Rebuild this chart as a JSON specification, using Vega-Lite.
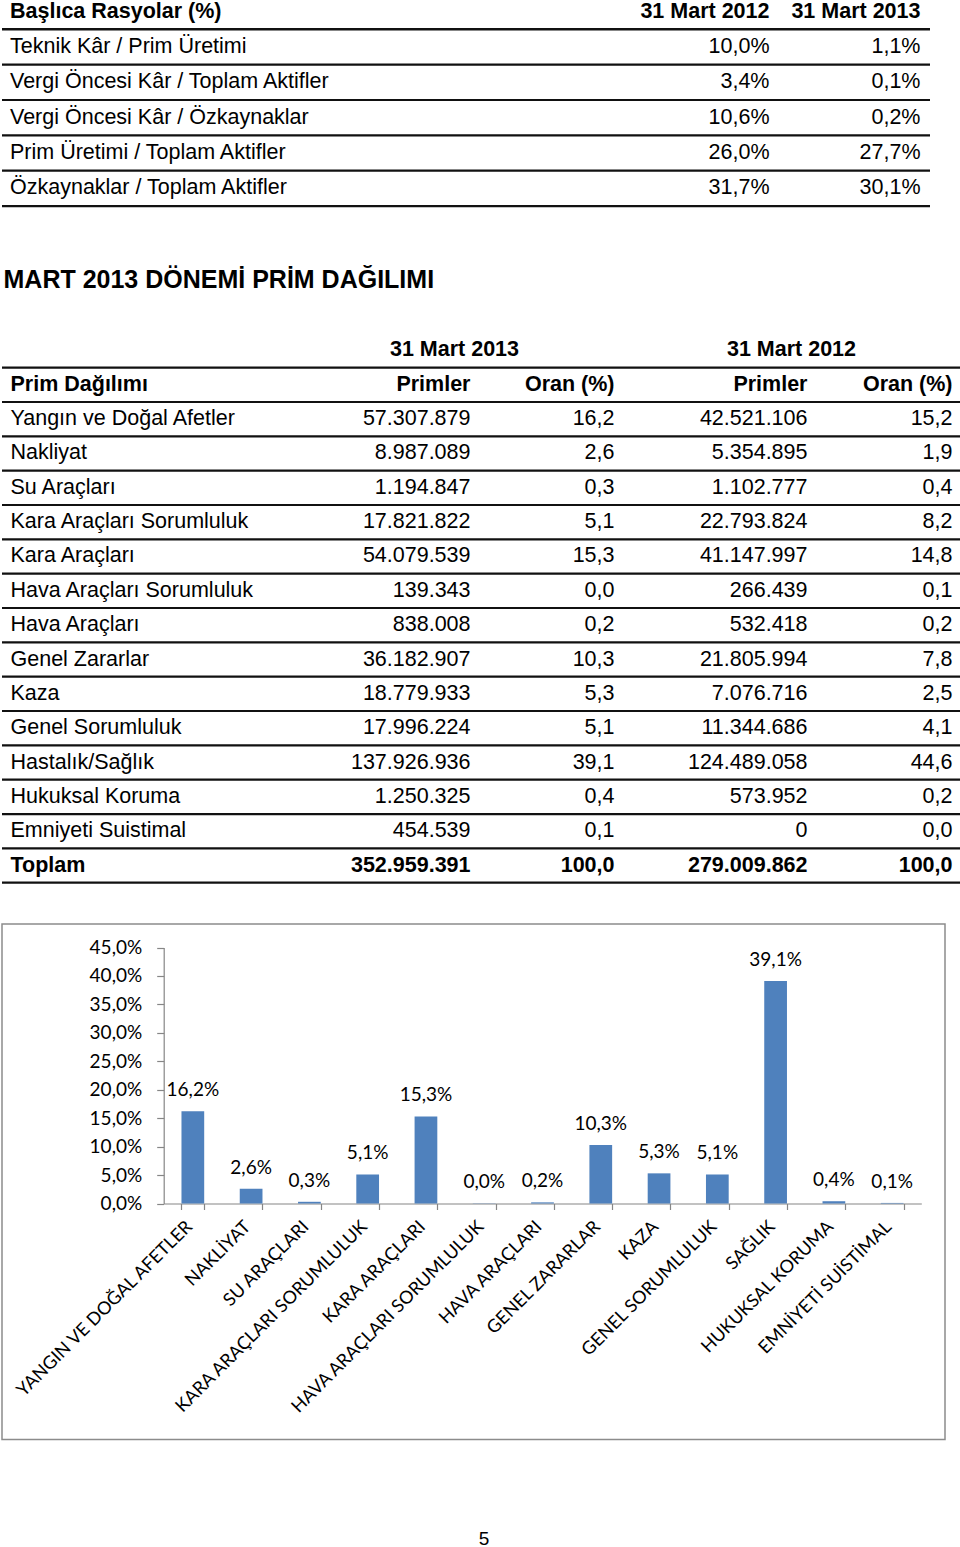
{
  "$schema": "https://vega.github.io/schema/vega-lite/v6.json",
  "background": "white",
  "padding": 0,
  "spacing": 0,
  "bounds": "flush",
  "config": {
    "view": {"stroke": null},
    "locale": {"number": {"decimal": ",", "thousands": ".", "grouping": [3], "currency": ["", " TL"]}},
    "text": {"font": "Liberation Sans", "fontSize": 21.5, "color": "#000"},
    "rule": {"color": "#111", "strokeWidth": 2.2},
    "scale": {"pointPadding": 0}
  },
  "vconcat": [
    {
      "width": 928,
      "height": 331,
      "data": {"values": [
        {"rasyo": "Teknik Kâr / Prim Üretimi", "yil": "31 Mart 2012", "deger": 0.100},
        {"rasyo": "Teknik Kâr / Prim Üretimi", "yil": "31 Mart 2013", "deger": 0.011},
        {"rasyo": "Vergi Öncesi Kâr / Toplam Aktifler", "yil": "31 Mart 2012", "deger": 0.034},
        {"rasyo": "Vergi Öncesi Kâr / Toplam Aktifler", "yil": "31 Mart 2013", "deger": 0.001},
        {"rasyo": "Vergi Öncesi Kâr / Özkaynaklar", "yil": "31 Mart 2012", "deger": 0.106},
        {"rasyo": "Vergi Öncesi Kâr / Özkaynaklar", "yil": "31 Mart 2013", "deger": 0.002},
        {"rasyo": "Prim Üretimi / Toplam Aktifler", "yil": "31 Mart 2012", "deger": 0.260},
        {"rasyo": "Prim Üretimi / Toplam Aktifler", "yil": "31 Mart 2013", "deger": 0.277},
        {"rasyo": "Özkaynaklar / Toplam Aktifler", "yil": "31 Mart 2012", "deger": 0.317},
        {"rasyo": "Özkaynaklar / Toplam Aktifler", "yil": "31 Mart 2013", "deger": 0.301}
      ]},
      "resolve": {"scale": {"x": "independent"}},
      "layer": [
        {
          "transform": [{"filter": "datum.yil === '31 Mart 2012'"}],
          "mark": {"type": "rule"},
          "encoding": {
            "y": {"field": "rasyo", "type": "nominal", "bandPosition": 1, "axis": null,
              "scale": {"type": "band", "domain": ["Başlıca Rasyolar (%)", "Teknik Kâr / Prim Üretimi", "Vergi Öncesi Kâr / Toplam Aktifler", "Vergi Öncesi Kâr / Özkaynaklar", "Prim Üretimi / Toplam Aktifler", "Özkaynaklar / Toplam Aktifler"], "range": [-8.05, 204.05], "paddingInner": 0, "paddingOuter": 0}}
          }
        },
        {
          "data": {"values": [{"rasyo": "Başlıca Rasyolar (%)"}]},
          "mark": {"type": "rule", "strokeWidth": 2.5},
          "encoding": {"y": {"field": "rasyo", "type": "nominal", "bandPosition": 1, "axis": null}}
        },
        {
          "data": {"values": [{"rasyo": "Başlıca Rasyolar (%)"}]},
          "mark": {"type": "text", "align": "left", "baseline": "middle", "fontWeight": "bold"},
          "encoding": {
            "y": {"field": "rasyo", "type": "nominal", "axis": null},
            "x": {"datum": "Kalem", "type": "nominal", "axis": null, "scale": {"type": "point", "domain": ["Kalem"], "range": [8, 8], "padding": 0}},
            "text": {"field": "rasyo"}
          }
        },
        {
          "transform": [{"filter": "datum.yil === '31 Mart 2012'"}],
          "mark": {"type": "text", "align": "left", "baseline": "middle"},
          "encoding": {
            "y": {"field": "rasyo", "type": "nominal", "axis": null},
            "x": {"datum": "Kalem", "type": "nominal", "axis": null, "scale": {"type": "point", "domain": ["Kalem"], "range": [8, 8], "padding": 0}},
            "text": {"field": "rasyo"}
          }
        },
        {
          "data": {"values": [{"yil": "31 Mart 2012"}, {"yil": "31 Mart 2013"}]},
          "mark": {"type": "text", "align": "right", "baseline": "middle", "fontWeight": "bold"},
          "encoding": {
            "y": {"datum": "Başlıca Rasyolar (%)", "type": "nominal", "axis": null},
            "x": {"field": "yil", "type": "nominal", "axis": null, "scale": {"type": "point", "domain": ["31 Mart 2012", "31 Mart 2013"], "range": [767.5, 918.5], "padding": 0}},
            "text": {"field": "yil"}
          }
        },
        {
          "mark": {"type": "text", "align": "right", "baseline": "middle"},
          "encoding": {
            "y": {"field": "rasyo", "type": "nominal", "axis": null},
            "x": {"field": "yil", "type": "nominal", "axis": null, "scale": {"type": "point", "domain": ["31 Mart 2012", "31 Mart 2013"], "range": [767.5, 918.5], "padding": 0}},
            "text": {"field": "deger", "type": "quantitative", "format": ".1%"}
          }
        }
      ]
    },
    {
      "width": 959,
      "height": 590.5,
      "title": {"text": "MART 2013 DÖNEMİ PRİM DAĞILIMI", "anchor": "start", "frame": "group", "font": "Liberation Sans", "fontSize": 25, "fontWeight": "bold", "color": "#000", "baseline": "alphabetic", "offset": 19.6, "dx": 1.5},
      "data": {"values": [
        {"dal": "Yangın ve Doğal Afetler", "yil": "31 Mart 2013", "primler": 57307879, "oran": 16.2},
        {"dal": "Yangın ve Doğal Afetler", "yil": "31 Mart 2012", "primler": 42521106, "oran": 15.2},
        {"dal": "Nakliyat", "yil": "31 Mart 2013", "primler": 8987089, "oran": 2.6},
        {"dal": "Nakliyat", "yil": "31 Mart 2012", "primler": 5354895, "oran": 1.9},
        {"dal": "Su Araçları", "yil": "31 Mart 2013", "primler": 1194847, "oran": 0.3},
        {"dal": "Su Araçları", "yil": "31 Mart 2012", "primler": 1102777, "oran": 0.4},
        {"dal": "Kara Araçları Sorumluluk", "yil": "31 Mart 2013", "primler": 17821822, "oran": 5.1},
        {"dal": "Kara Araçları Sorumluluk", "yil": "31 Mart 2012", "primler": 22793824, "oran": 8.2},
        {"dal": "Kara Araçları", "yil": "31 Mart 2013", "primler": 54079539, "oran": 15.3},
        {"dal": "Kara Araçları", "yil": "31 Mart 2012", "primler": 41147997, "oran": 14.8},
        {"dal": "Hava Araçları Sorumluluk", "yil": "31 Mart 2013", "primler": 139343, "oran": 0.0},
        {"dal": "Hava Araçları Sorumluluk", "yil": "31 Mart 2012", "primler": 266439, "oran": 0.1},
        {"dal": "Hava Araçları", "yil": "31 Mart 2013", "primler": 838008, "oran": 0.2},
        {"dal": "Hava Araçları", "yil": "31 Mart 2012", "primler": 532418, "oran": 0.2},
        {"dal": "Genel Zararlar", "yil": "31 Mart 2013", "primler": 36182907, "oran": 10.3},
        {"dal": "Genel Zararlar", "yil": "31 Mart 2012", "primler": 21805994, "oran": 7.8},
        {"dal": "Kaza", "yil": "31 Mart 2013", "primler": 18779933, "oran": 5.3},
        {"dal": "Kaza", "yil": "31 Mart 2012", "primler": 7076716, "oran": 2.5},
        {"dal": "Genel Sorumluluk", "yil": "31 Mart 2013", "primler": 17996224, "oran": 5.1},
        {"dal": "Genel Sorumluluk", "yil": "31 Mart 2012", "primler": 11344686, "oran": 4.1},
        {"dal": "Hastalık/Sağlık", "yil": "31 Mart 2013", "primler": 137926936, "oran": 39.1},
        {"dal": "Hastalık/Sağlık", "yil": "31 Mart 2012", "primler": 124489058, "oran": 44.6},
        {"dal": "Hukuksal Koruma", "yil": "31 Mart 2013", "primler": 1250325, "oran": 0.4},
        {"dal": "Hukuksal Koruma", "yil": "31 Mart 2012", "primler": 573952, "oran": 0.2},
        {"dal": "Emniyeti Suistimal", "yil": "31 Mart 2013", "primler": 454539, "oran": 0.1},
        {"dal": "Emniyeti Suistimal", "yil": "31 Mart 2012", "primler": 0, "oran": 0.0},
        {"dal": "Toplam", "yil": "31 Mart 2013", "primler": 352959391, "oran": 100.0},
        {"dal": "Toplam", "yil": "31 Mart 2012", "primler": 279009862, "oran": 100.0}
      ]},
      "resolve": {"scale": {"x": "independent"}},
      "layer": [
        {
          "transform": [{"filter": "datum.yil === '31 Mart 2013'"}],
          "mark": {"type": "rule"},
          "encoding": {
            "y": {"field": "dal", "type": "nominal", "bandPosition": 1, "axis": null,
              "scale": {"type": "band", "domain": ["Dönem", "Prim Dağılımı", "Yangın ve Doğal Afetler", "Nakliyat", "Su Araçları", "Kara Araçları Sorumluluk", "Kara Araçları", "Hava Araçları Sorumluluk", "Hava Araçları", "Genel Zararlar", "Kaza", "Genel Sorumluluk", "Hastalık/Sağlık", "Hukuksal Koruma", "Emniyeti Suistimal", "Toplam"], "range": [0.3, 549.7], "paddingInner": 0, "paddingOuter": 0}}
          }
        },
        {
          "data": {"values": [{"dal": "Dönem"}, {"dal": "Prim Dağılımı"}]},
          "mark": {"type": "rule"},
          "encoding": {"y": {"field": "dal", "type": "nominal", "bandPosition": 1, "axis": null}}
        },
        {
          "data": {"values": [{"yil": "31 Mart 2013"}, {"yil": "31 Mart 2012"}]},
          "mark": {"type": "text", "align": "center", "baseline": "middle", "fontWeight": "bold"},
          "encoding": {
            "y": {"datum": "Dönem", "type": "nominal", "axis": null},
            "x": {"field": "yil", "type": "nominal", "axis": null, "scale": {"type": "point", "domain": ["31 Mart 2013", "31 Mart 2012"], "range": [452.5, 789.5], "padding": 0}},
            "text": {"field": "yil"}
          }
        },
        {
          "data": {"values": [{"dal": "Prim Dağılımı"}]},
          "mark": {"type": "text", "align": "left", "baseline": "middle", "fontWeight": "bold"},
          "encoding": {
            "y": {"field": "dal", "type": "nominal", "axis": null},
            "x": {"datum": "Kalem", "type": "nominal", "axis": null, "scale": {"type": "point", "domain": ["Kalem"], "range": [8.5, 8.5], "padding": 0}},
            "text": {"field": "dal"}
          }
        },
        {
          "data": {"values": [{"yil": "31 Mart 2013"}, {"yil": "31 Mart 2012"}]},
          "mark": {"type": "text", "align": "right", "baseline": "middle", "fontWeight": "bold"},
          "encoding": {
            "y": {"datum": "Prim Dağılımı", "type": "nominal", "axis": null},
            "x": {"field": "yil", "type": "nominal", "axis": null, "scale": {"type": "point", "domain": ["31 Mart 2013", "31 Mart 2012"], "range": [468.5, 805.5], "padding": 0}},
            "text": {"value": "Primler"}
          }
        },
        {
          "data": {"values": [{"yil": "31 Mart 2013"}, {"yil": "31 Mart 2012"}]},
          "mark": {"type": "text", "align": "right", "baseline": "middle", "fontWeight": "bold"},
          "encoding": {
            "y": {"datum": "Prim Dağılımı", "type": "nominal", "axis": null},
            "x": {"field": "yil", "type": "nominal", "axis": null, "scale": {"type": "point", "domain": ["31 Mart 2013", "31 Mart 2012"], "range": [612.5, 950.5], "padding": 0}},
            "text": {"value": "Oran (%)"}
          }
        },
        {
          "transform": [{"filter": "datum.yil === '31 Mart 2013' && datum.dal !== 'Toplam'"}],
          "mark": {"type": "text", "align": "left", "baseline": "middle"},
          "encoding": {
            "y": {"field": "dal", "type": "nominal", "axis": null},
            "x": {"datum": "Kalem", "type": "nominal", "axis": null, "scale": {"type": "point", "domain": ["Kalem"], "range": [8.5, 8.5], "padding": 0}},
            "text": {"field": "dal"}
          }
        },
        {
          "transform": [{"filter": "datum.yil === '31 Mart 2013' && datum.dal === 'Toplam'"}],
          "mark": {"type": "text", "align": "left", "baseline": "middle", "fontWeight": "bold"},
          "encoding": {
            "y": {"field": "dal", "type": "nominal", "axis": null},
            "x": {"datum": "Kalem", "type": "nominal", "axis": null, "scale": {"type": "point", "domain": ["Kalem"], "range": [8.5, 8.5], "padding": 0}},
            "text": {"field": "dal"}
          }
        },
        {
          "transform": [{"filter": "datum.dal !== 'Toplam'"}],
          "mark": {"type": "text", "align": "right", "baseline": "middle"},
          "encoding": {
            "y": {"field": "dal", "type": "nominal", "axis": null},
            "x": {"field": "yil", "type": "nominal", "axis": null, "scale": {"type": "point", "domain": ["31 Mart 2013", "31 Mart 2012"], "range": [468.5, 805.5], "padding": 0}},
            "text": {"field": "primler", "type": "quantitative", "format": ",d"}
          }
        },
        {
          "transform": [{"filter": "datum.dal === 'Toplam'"}],
          "mark": {"type": "text", "align": "right", "baseline": "middle", "fontWeight": "bold"},
          "encoding": {
            "y": {"field": "dal", "type": "nominal", "axis": null},
            "x": {"field": "yil", "type": "nominal", "axis": null, "scale": {"type": "point", "domain": ["31 Mart 2013", "31 Mart 2012"], "range": [468.5, 805.5], "padding": 0}},
            "text": {"field": "primler", "type": "quantitative", "format": ",d"}
          }
        },
        {
          "transform": [{"filter": "datum.dal !== 'Toplam'"}],
          "mark": {"type": "text", "align": "right", "baseline": "middle"},
          "encoding": {
            "y": {"field": "dal", "type": "nominal", "axis": null},
            "x": {"field": "yil", "type": "nominal", "axis": null, "scale": {"type": "point", "domain": ["31 Mart 2013", "31 Mart 2012"], "range": [612.5, 950.5], "padding": 0}},
            "text": {"field": "oran", "type": "quantitative", "format": ".1f"}
          }
        },
        {
          "transform": [{"filter": "datum.dal === 'Toplam'"}],
          "mark": {"type": "text", "align": "right", "baseline": "middle", "fontWeight": "bold"},
          "encoding": {
            "y": {"field": "dal", "type": "nominal", "axis": null},
            "x": {"field": "yil", "type": "nominal", "axis": null, "scale": {"type": "point", "domain": ["31 Mart 2013", "31 Mart 2012"], "range": [612.5, 950.5], "padding": 0}},
            "text": {"field": "oran", "type": "quantitative", "format": ".1f"}
          }
        }
      ]
    },
    {
      "width": 943,
      "height": 515.5,
      "view": {"stroke": "#8c8c8c", "strokeWidth": 1.5},
      "title": {"text": "5", "orient": "bottom", "anchor": "middle", "frame": "group", "offset": 90, "baseline": "top", "font": "Liberation Sans", "fontSize": 19, "fontWeight": "normal", "color": "#000", "dx": 10.5},
      "data": {"values": [
        {"brans": "YANGIN VE DOĞAL AFETLER", "oran": 0.162},
        {"brans": "NAKLİYAT", "oran": 0.026},
        {"brans": "SU ARAÇLARI", "oran": 0.003},
        {"brans": "KARA ARAÇLARI SORUMLULUK", "oran": 0.051},
        {"brans": "KARA ARAÇLARI", "oran": 0.153},
        {"brans": "HAVA ARAÇLARI SORUMLULUK", "oran": 0.0004},
        {"brans": "HAVA ARAÇLARI", "oran": 0.002},
        {"brans": "GENEL ZARARLAR", "oran": 0.103},
        {"brans": "KAZA", "oran": 0.053},
        {"brans": "GENEL SORUMLULUK", "oran": 0.051},
        {"brans": "SAĞLIK", "oran": 0.391},
        {"brans": "HUKUKSAL KORUMA", "oran": 0.004},
        {"brans": "EMNİYETİ SUİSTİMAL", "oran": 0.001}
      ]},
      "encoding": {
        "x": {"field": "brans", "type": "nominal", "sort": null,
          "scale": {"type": "band", "range": [161.7, 919.3], "paddingInner": 0.61, "paddingOuter": 0.305},
          "axis": {"orient": "bottom", "offset": -236, "title": null, "tickBand": "extent", "tickSize": 6, "labelAngle": -45, "labelFont": "Lato", "labelFontSize": 18, "labelColor": "#000", "labelPadding": 8, "labelOffset": -10, "labelLimit": 0, "labelOverlap": false, "domainColor": "#868686", "tickColor": "#868686", "domainWidth": 1.2, "tickWidth": 1.2, "grid": false}},
        "y": {"field": "oran", "type": "quantitative",
          "scale": {"domain": [0, 0.45], "range": [279.5, 23.5], "nice": false, "zero": true},
          "axis": {"orient": "left", "offset": -161.7, "title": null, "values": [0, 0.05, 0.1, 0.15, 0.2, 0.25, 0.3, 0.35, 0.4, 0.45], "format": ".1%", "labelFont": "Lato", "labelFontSize": 19, "labelColor": "#000", "labelPadding": 15, "tickSize": 7, "domainColor": "#868686", "tickColor": "#868686", "domainWidth": 1.2, "tickWidth": 1.2, "grid": false}}
      },
      "layer": [
        {"mark": {"type": "bar", "color": "#4f81bd"}},
        {
          "mark": {"type": "text", "baseline": "alphabetic", "dy": -15, "font": "Lato", "fontSize": 19, "color": "#000"},
          "encoding": {"text": {"field": "oran", "type": "quantitative", "format": ".1%"}}
        }
      ]
    }
  ]
}
